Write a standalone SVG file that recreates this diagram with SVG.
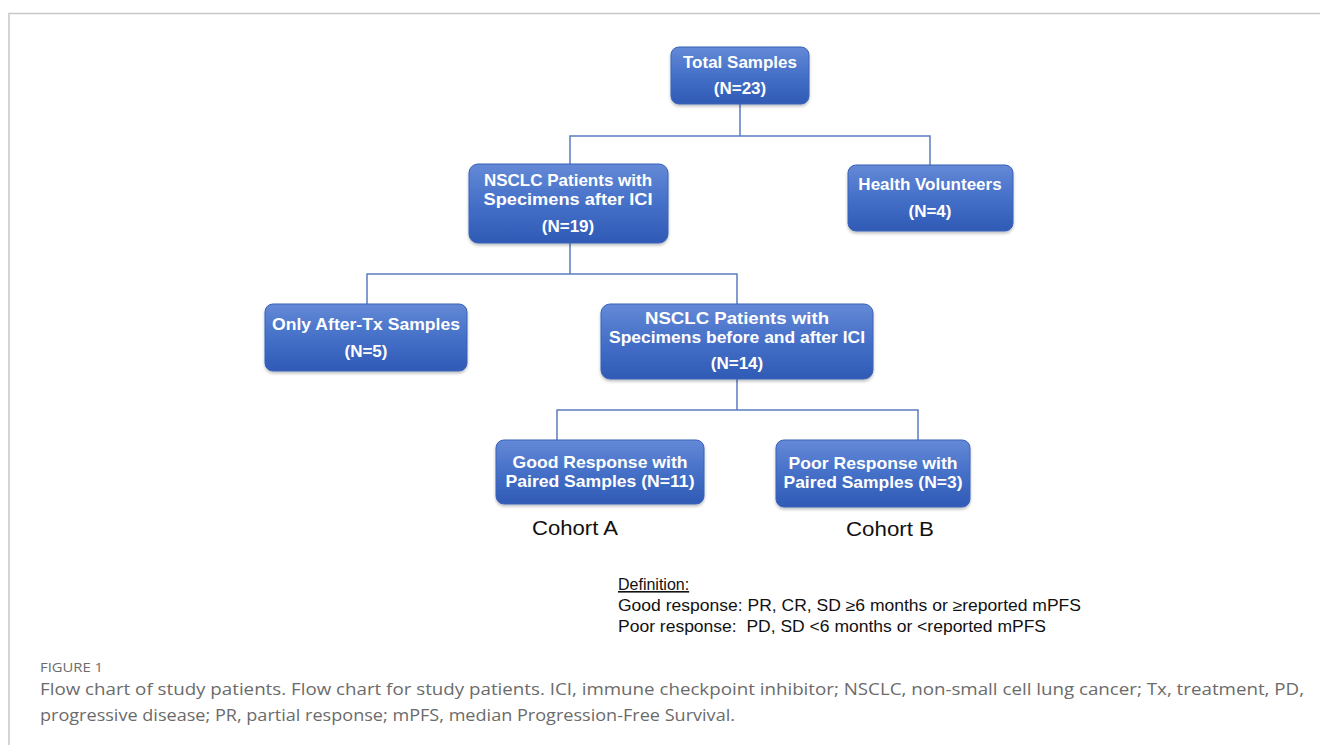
<svg xmlns="http://www.w3.org/2000/svg" width="1320" height="745" viewBox="0 0 1320 745">
<defs>
<linearGradient id="bg" x1="0" y1="0" x2="0" y2="1">
<stop offset="0" stop-color="#6489d6"/>
<stop offset="0.5" stop-color="#4570c8"/>
<stop offset="1" stop-color="#2f5ab5"/>
</linearGradient>
<filter id="sh" x="-10%" y="-10%" width="120%" height="130%">
<feDropShadow dx="0" dy="2" stdDeviation="1.5" flood-color="#000" flood-opacity="0.25"/>
</filter>
</defs>
<style>
.box{fill:url(#bg);stroke:#3a62b8;stroke-width:1;filter:url(#sh)}
.bt{font-family:"Liberation Sans",Arial,sans-serif;font-weight:bold;font-size:17px;fill:#fff;text-anchor:middle}
.con{fill:none;stroke:#5b7cc0;stroke-width:1.5}
.lab{font-family:"Liberation Sans",Arial,sans-serif;fill:#111}
.cap{font-family:"Open Sans","Liberation Sans",sans-serif;fill:#6b6b6b}
</style>
<rect width="1320" height="745" fill="#fff"/>
<path d="M9 745 V13.5 H1320" fill="none" stroke="#c8c8c8" stroke-width="1.5"/>
<g id="connectors">
<path class="con" d="M740 104 V136 M570 164 V136 H930 V165"/>
<path class="con" d="M570 243 V274 M367 304 V274 H737 V304"/>
<path class="con" d="M737 379 V410 M557 440 V410 H918 V440"/>
</g>
<g id="n_total">
<rect class="box" x="671" y="47" width="138" height="57" rx="8"/>
<text class="bt" x="740" y="68">Total Samples</text>
<text class="bt" x="740" y="94">(N=23)</text>
</g>
<g id="n_after">
<rect class="box" x="469" y="164" width="199" height="79" rx="9"/>
<text class="bt" x="568" y="186">NSCLC Patients with</text>
<text class="bt" x="568" y="205" textLength="169" lengthAdjust="spacingAndGlyphs">Specimens after ICI</text>
<text class="bt" x="568" y="232">(N=19)</text>
</g>
<g id="n_health">
<rect class="box" x="848" y="165" width="165" height="66" rx="8"/>
<text class="bt" x="930" y="190">Health Volunteers</text>
<text class="bt" x="930" y="217">(N=4)</text>
</g>
<g id="n_only">
<rect class="box" x="265" y="304" width="202" height="67" rx="8"/>
<text class="bt" x="366" y="330" textLength="188" lengthAdjust="spacingAndGlyphs">Only After-Tx Samples</text>
<text class="bt" x="366" y="357">(N=5)</text>
</g>
<g id="n_beforeafter">
<rect class="box" x="601" y="304" width="272" height="75" rx="9"/>
<text class="bt" x="737" y="324" textLength="184" lengthAdjust="spacingAndGlyphs">NSCLC Patients with</text>
<text class="bt" x="737" y="343" textLength="256" lengthAdjust="spacingAndGlyphs">Specimens before and after ICI</text>
<text class="bt" x="737" y="369">(N=14)</text>
</g>
<g id="n_good">
<rect class="box" x="496" y="440" width="208" height="64" rx="8"/>
<text class="bt" x="600" y="468" textLength="175" lengthAdjust="spacingAndGlyphs">Good Response with</text>
<text class="bt" x="600" y="487" textLength="189" lengthAdjust="spacingAndGlyphs">Paired Samples (N=11)</text>
</g>
<g id="n_poor">
<rect class="box" x="776" y="440" width="194" height="67" rx="8"/>
<text class="bt" x="873" y="469" textLength="169" lengthAdjust="spacingAndGlyphs">Poor Response with</text>
<text class="bt" x="873" y="488" textLength="179" lengthAdjust="spacingAndGlyphs">Paired Samples (N=3)</text>
</g>
<g id="cohorts">
<text class="lab" x="532" y="535" font-size="21" textLength="86" lengthAdjust="spacingAndGlyphs">Cohort A</text>
<text class="lab" x="846" y="536" font-size="21" textLength="88" lengthAdjust="spacingAndGlyphs">Cohort B</text>
</g>
<g id="definition" class="lab" font-size="16">
<text x="618" y="590" text-decoration="underline">Definition:</text>
<text x="618" y="611" textLength="463" lengthAdjust="spacingAndGlyphs">Good response: PR, CR, SD ≥6 months or ≥reported mPFS</text>
<text x="618" y="632" textLength="428" lengthAdjust="spacingAndGlyphs">Poor response:&#160; PD, SD &lt;6 months or &lt;reported mPFS</text>
</g>
<g id="caption">
<text class="cap" x="40" y="672" font-size="12.5" textLength="63" lengthAdjust="spacingAndGlyphs">FIGURE 1</text>
<text class="cap" x="40" y="695" font-size="16" textLength="1264" lengthAdjust="spacingAndGlyphs">Flow chart of study patients. Flow chart for study patients. ICI, immune checkpoint inhibitor; NSCLC, non-small cell lung cancer; Tx, treatment, PD,</text>
<text class="cap" x="40" y="721" font-size="16" textLength="695" lengthAdjust="spacingAndGlyphs">progressive disease; PR, partial response; mPFS, median Progression-Free Survival.</text>
</g>
</svg>
